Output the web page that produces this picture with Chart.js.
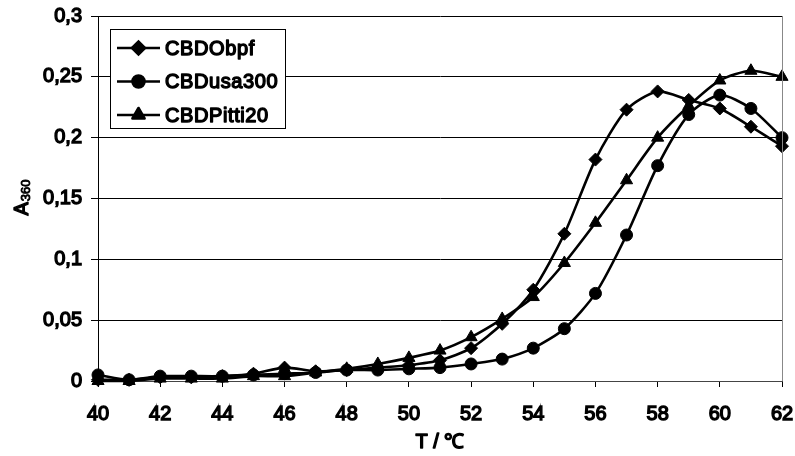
<!DOCTYPE html>
<html>
<head>
<meta charset="utf-8">
<script src="https://cdn.jsdelivr.net/npm/chart.js@4.4.1/dist/chart.umd.min.js"></script>
<style>
  html, body { margin: 0; padding: 0; background: #fff; }
  canvas { display: block; }
</style>
</head>
<body>
<canvas id="chart" width="795" height="456"></canvas>
<script>
// Turbidity (A360) vs temperature for three CBD variants

var temps = [40, 41, 42, 43, 44, 45, 46, 47, 48, 49, 50, 51, 52, 53, 54, 55, 56, 57, 58, 59, 60, 61, 62];

var obpf    = [0.001, 0.001, 0.003, 0.003, 0.004, 0.006, 0.011, 0.008, 0.009, 0.011, 0.013, 0.017, 0.027, 0.047, 0.075, 0.121, 0.182, 0.223, 0.238, 0.231, 0.224, 0.209, 0.193];
var usa300  = [0.005, 0.001, 0.004, 0.004, 0.004, 0.005, 0.006, 0.007, 0.009, 0.009, 0.010, 0.011, 0.014, 0.018, 0.027, 0.043, 0.072, 0.120, 0.177, 0.219, 0.235, 0.224, 0.200];
var pitti20 = [0.000, 0.000, 0.002, 0.002, 0.002, 0.004, 0.004, 0.007, 0.010, 0.014, 0.019, 0.025, 0.036, 0.051, 0.069, 0.097, 0.130, 0.165, 0.200, 0.226, 0.247, 0.255, 0.250];

var seriesNames = ['CBDObpf', 'CBDusa300', 'CBDPitti20'];
var yTicks = [0, 0.05, 0.1, 0.15, 0.2, 0.25, 0.3];
var xTitle = 'T / \u2103';

var FONT = 'Arial, "Liberation Sans", sans-serif';
var FAKE_BOLD = 1.4;   // stroke width used to thicken the text (no bold face here)

function toPoints(values) {
    return temps.map(function (t, i) { return { x: t, y: values[i] }; });
}

function makeSet(name, values, style, radius) {
    return {
        label: name,
        data: toPoints(values),
        borderColor: '#000',
        backgroundColor: '#000',
        borderWidth: 2.6,
        pointStyle: style,
        pointRadius: radius,
        pointBorderWidth: 1,
        tension: 0.25,
        clip: false
    };
}

function boldText(ctx, text, x, y, w) {
    ctx.lineWidth = w || FAKE_BOLD;
    ctx.lineJoin = 'round';
    ctx.strokeStyle = '#000';
    ctx.fillStyle = '#000';
    ctx.strokeText(text, x, y);
    ctx.fillText(text, x, y);
}

// legend box, axis titles, right border
var extrasPlugin = {
    id: 'extras',
    afterDraw: function (chart) {
        var ctx = chart.ctx;
        var area = chart.chartArea;

        ctx.save();
        ctx.strokeStyle = '#888';
        ctx.lineWidth = 1;
        ctx.beginPath();
        ctx.moveTo(Math.round(area.right) + 0.5, area.top);
        ctx.lineTo(Math.round(area.right) + 0.5, area.bottom);
        ctx.stroke();
        ctx.restore();

        // legend
        var bx = 110.5, by = 29.5, bw = 175, bh = 99;
        ctx.save();
        ctx.fillStyle = '#fff';
        ctx.fillRect(bx, by, bw, bh);
        ctx.strokeStyle = '#000';
        ctx.lineWidth = 1;
        ctx.strokeRect(bx, by, bw, bh);
        ctx.font = '20px ' + FONT;
        ctx.letterSpacing = '0.6px';
        ctx.textBaseline = 'middle';
        chart.data.datasets.forEach(function (ds, i) {
            var y = 48 + i * 33.5;
            ctx.strokeStyle = '#000';
            ctx.lineWidth = 2.6;
            ctx.beginPath();
            ctx.moveTo(117, y);
            ctx.lineTo(160, y);
            ctx.stroke();
            ctx.fillStyle = '#000';
            Chart.helpers.drawPoint(ctx, {
                pointStyle: ds.pointStyle,
                radius: ds.pointRadius,
                rotation: 0,
                borderWidth: 1
            }, 138.5, y);
            boldText(ctx, ds.label, 165, y + 1);
        });
        ctx.restore();

        // x axis title
        ctx.save();
        ctx.font = '20px ' + FONT;
        ctx.textAlign = 'center';
        ctx.textBaseline = 'middle';
        boldText(ctx, xTitle, (area.left + area.right) / 2, 442);
        ctx.restore();

        // y axis title: A with subscript 360, rotated
        ctx.save();
        ctx.translate(21, 198);
        ctx.rotate(-Math.PI / 2);
        ctx.textBaseline = 'alphabetic';
        ctx.font = '20px ' + FONT;
        var wA = ctx.measureText('A').width;
        ctx.font = '13px ' + FONT;
        var wS = ctx.measureText('360').width;
        var x0 = -(wA + wS) / 2;
        ctx.font = '20px ' + FONT;
        boldText(ctx, 'A', x0, 7);
        ctx.font = '13px ' + FONT;
        boldText(ctx, '360', x0 + wA + 1, 9, 0.9);
        ctx.restore();
    }
};

var ctx = document.getElementById('chart').getContext('2d');

new Chart(ctx, {
    type: 'line',
    data: {
        datasets: [
            makeSet(seriesNames[0], obpf, 'rectRot', 6.5),
            makeSet(seriesNames[1], usa300, 'circle', 6),
            makeSet(seriesNames[2], pitti20, 'triangle', 7)
        ]
    },
    options: {
        responsive: false,
        animation: false,
        devicePixelRatio: 1,
        layout: { padding: { left: 0, right: 13, top: 16, bottom: 0 } },
        plugins: {
            legend: { display: false },
            tooltip: { enabled: false }
        },
        scales: {
            x: {
                type: 'linear',
                min: 40,
                max: 62,
                grid: { drawOnChartArea: false, color: '#000', tickLength: 6 },
                border: { color: '#444', width: 1 },
                ticks: {
                    stepSize: 2,
                    color: '#000',
                    padding: 15,
                    maxRotation: 0,
                    textStrokeColor: '#000',
                    textStrokeWidth: FAKE_BOLD,
                    font: { family: FONT, size: 20 }
                },
                afterFit: function (scale) {
                    scale.height = 75;
                    scale.paddingLeft = 0;
                    scale.paddingRight = 0;
                }
            },
            y: {
                min: 0,
                max: 0.3,
                afterBuildTicks: function (scale) {
                    scale.ticks = yTicks.map(function (v) { return { value: v }; });
                },
                grid: { color: '#000', tickLength: 7 },
                border: { color: '#000', width: 1 },
                ticks: {
                    color: '#000',
                    padding: 9,
                    textStrokeColor: '#000',
                    textStrokeWidth: FAKE_BOLD,
                    font: { family: FONT, size: 20 },
                    callback: function (v) {
                        return String(Math.round(v * 100) / 100).replace('.', ',');
                    }
                },
                afterFit: function (scale) {
                    scale.width = 98;
                    scale.paddingTop = 0;
                    scale.paddingBottom = 0;
                }
            }
        }
    },
    plugins: [extrasPlugin]
});
</script>
</body>
</html>
